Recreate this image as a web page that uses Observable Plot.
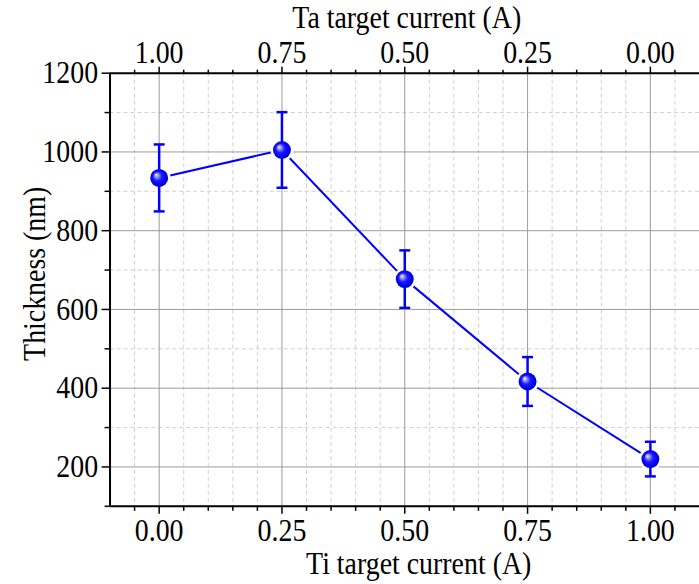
<!DOCTYPE html>
<html>
<head>
<meta charset="utf-8">
<script src="https://cdn.jsdelivr.net/npm/d3@7"></script>
<script src="https://cdn.jsdelivr.net/npm/@observablehq/plot@0.6"></script>
<style>
  html, body { margin: 0; padding: 0; background: #fff; overflow: hidden; }
  #chart { width: 699px; height: 584px; overflow: hidden; }
</style>
</head>
<body>
<div id="chart"></div>
<script>
// Film thickness vs. target currents (Ti on bottom, Ta = 1 - Ti on top)
const tiCurrent = [0.00, 0.25, 0.50, 0.75, 1.00];
const thickness = [934, 1005, 677, 417, 220];
const thicknessErr = [85, 96, 73, 62, 44];

const xMajorTicks = [0.00, 0.25, 0.50, 0.75, 1.00];
const xMinorTicks = [-0.05, 0.05, 0.10, 0.15, 0.20, 0.30, 0.35, 0.40, 0.45, 0.55, 0.60, 0.65, 0.70, 0.80, 0.85, 0.90, 0.95, 1.05];
const yMajorTicks = [200, 400, 600, 800, 1000, 1200];
const yMinorTicks = [100, 300, 500, 700, 900, 1100];

const xTitle = "Ti target current (A)";
const topTitle = "Ta target current (A)";
const yTitle = "Thickness (nm)";

const data = tiCurrent.map((x, i) => ({
  x, y: thickness[i], lo: thickness[i] - thicknessErr[i], hi: thickness[i] + thicknessErr[i]
}));

const blue = "#0000ff";
const font = "Liberation Serif, Times New Roman, serif";
const fs = 28;
const textStretch = 1.15; // tall, narrow serif lettering

// horizontal cap for the error bars, fixed pixel width
const capSymbol = { draw(ctx) { ctx.moveTo(-5.5, 0); ctx.lineTo(5.5, 0); } };

const chart = Plot.plot({
  width: 702,
  height: 584,
  marginLeft: 110,
  marginRight: 0,
  marginTop: 73,
  marginBottom: 76,
  style: { fontFamily: font, background: "#fff", color: "#000" },
  x: { domain: [-0.1, 1.1], axis: null },
  y: { domain: [100, 1200], axis: null },
  marks: [
    // minor dashed grid
    Plot.gridX(xMinorTicks, { stroke: "#d0d0d0", strokeOpacity: 1, strokeDasharray: "4,3" }),
    Plot.gridY(yMinorTicks, { stroke: "#d0d0d0", strokeOpacity: 1, strokeDasharray: "4,3" }),
    // major solid grid
    Plot.gridX(xMajorTicks, { stroke: "#9a9a9a", strokeOpacity: 1 }),
    Plot.gridY(yMajorTicks.filter(d => d < 1200), { stroke: "#9a9a9a", strokeOpacity: 1 }),

    // bottom axis
    Plot.axisX({ anchor: "bottom", ticks: xMinorTicks, tickSize: 5, tickFormat: () => "", strokeWidth: 1.5, label: null }),
    Plot.axisX({ anchor: "bottom", ticks: xMajorTicks, tickSize: 8, tickPadding: 4, tickFormat: d => d.toFixed(2), fontSize: fs, strokeWidth: 1.5, label: null }),
    // top axis (Ta current = 1 - Ti current)
    Plot.axisX({ anchor: "top", ticks: xMinorTicks, tickSize: 4, tickFormat: () => "", strokeWidth: 1.5, label: null }),
    Plot.axisX({ anchor: "top", ticks: xMajorTicks, tickSize: 7, tickPadding: 3, tickFormat: d => (1 - d).toFixed(2), fontSize: fs, strokeWidth: 1.5, label: null }),
    // left axis
    Plot.axisY({ anchor: "left", ticks: yMinorTicks, tickSize: 5, tickFormat: () => "", strokeWidth: 1.5, label: null }),
    Plot.axisY({ anchor: "left", ticks: yMajorTicks, tickSize: 8, tickPadding: 4, tickFormat: d => String(d), fontSize: fs, strokeWidth: 1.5, label: null }),

    // axis lines
    Plot.ruleY([100], { stroke: "#000", strokeWidth: 2 }),
    Plot.ruleY([1200], { stroke: "#000", strokeWidth: 2 }),
    Plot.ruleX([-0.1], { stroke: "#000", strokeWidth: 2 }),

    // axis titles
    Plot.text([xTitle], { frameAnchor: "bottom", dy: 58, dx: 14, fontSize: fs, fill: "#000", textAnchor: "middle", lineAnchor: "middle" }),
    Plot.text([topTitle], { frameAnchor: "top", dy: -56, dx: 2, fontSize: fs, fill: "#000", textAnchor: "middle", lineAnchor: "middle" }),
    Plot.text([yTitle], { frameAnchor: "left", dx: -76, dy: -16, rotate: -90, fontSize: fs, fill: "#000", textAnchor: "middle", lineAnchor: "middle" }),

    // connecting line
    Plot.line(data, { x: "x", y: "y", stroke: blue, strokeWidth: 2 }),
    // white gap between the line and the symbols
    Plot.dot(data, { x: "x", y: "y", r: 11.5, fill: "#fff", stroke: null }),
    // error bars
    Plot.ruleX(data, { x: "x", y1: "lo", y2: "hi", stroke: blue, strokeWidth: 2.5 }),
    Plot.dot(data, { x: "x", y: "lo", symbol: capSymbol, r: 4, stroke: blue, strokeWidth: 2.5, fill: "none" }),
    Plot.dot(data, { x: "x", y: "hi", symbol: capSymbol, r: 4, stroke: blue, strokeWidth: 2.5, fill: "none" }),
    // shaded spheres
    Plot.dot(data, { x: "x", y: "y", r: 9, fill: "url(#ball)", stroke: null })
  ]
});

// radial gradient for the sphere symbols
const ns = "http://www.w3.org/2000/svg";
const defs = document.createElementNS(ns, "defs");
const grad = document.createElementNS(ns, "radialGradient");
grad.setAttribute("id", "ball");
grad.setAttribute("cx", "50%");
grad.setAttribute("cy", "50%");
grad.setAttribute("r", "50%");
grad.setAttribute("fx", "32%");
grad.setAttribute("fy", "32%");
[["0%", "#f4f4ff"], ["18%", "#a8a8ff"], ["50%", "#1a1aff"], ["85%", "#0000f0"], ["100%", "#0000c8"]].forEach(([o, c]) => {
  const s = document.createElementNS(ns, "stop");
  s.setAttribute("offset", o);
  s.setAttribute("stop-color", c);
  grad.appendChild(s);
});
defs.appendChild(grad);
chart.insertBefore(defs, chart.firstChild);

// stretch every label vertically about its own anchor point
chart.querySelectorAll("text").forEach(t => {
  const tr = t.getAttribute("transform") || "";
  const x = t.getAttribute("x"), y = t.getAttribute("y");
  if (x != null || y != null) {
    const px = +x || 0, py = +y || 0;
    t.setAttribute("transform", `${tr} translate(${px},${py}) scale(1,${textStretch}) translate(${-px},${-py})`);
  } else {
    t.setAttribute("transform", `${tr} scale(1,${textStretch})`);
  }
});

document.getElementById("chart").appendChild(chart);
</script>
</body>
</html>
